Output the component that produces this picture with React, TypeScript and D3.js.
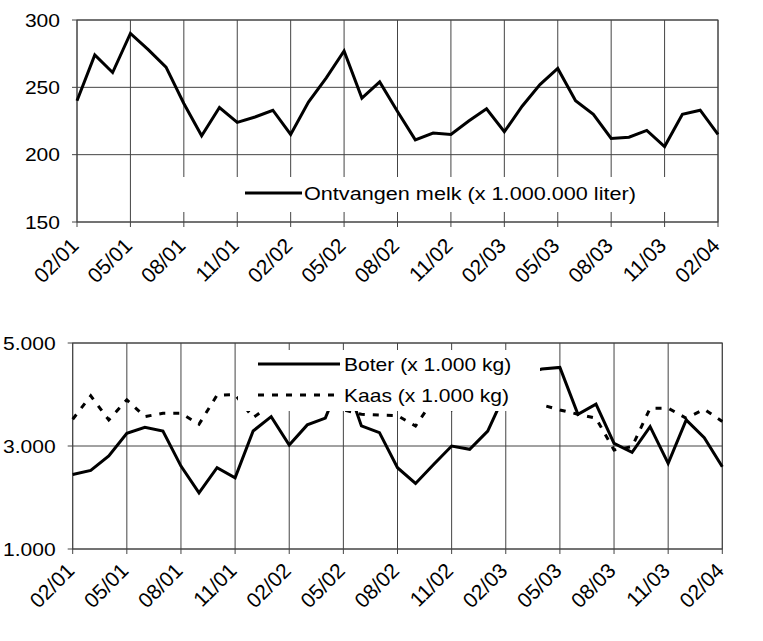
import React from 'react';
import * as d3 from 'd3';

const xTickLabels = ['02/01','05/01','08/01','11/01','02/02','05/02','08/02','11/02','02/03','05/03','08/03','11/03','02/04'];
const melk = [240,274,261,290,278,265,238,214,235,224,228,233,215,239,257,277,242,254,232,211,216,215,225,234,217,236,252,264,240,230,212,213,218,206,230,233,215];
const boter = [2448,2526,2805,3247,3364,3292,2610,2091,2578,2383,3292,3571,3019,3410,3540,4400,3390,3260,2578,2273,2640,3000,2935,3290,4050,4400,4494,4526,3617,3812,3052,2877,3377,2662,3506,3162,2597];
const kaas = [3519,3974,3506,3896,3571,3636,3636,3422,3987,4000,3550,3800,3900,3800,3850,3700,3615,3600,3590,3388,3900,3700,3800,3750,3900,3850,3800,3700,3617,3540,2922,2987,3734,3734,3540,3714,3474];
const topTicks = [150,200,250,300];
const bottomTicks = [1000,3000,5000];
const melkLabel = 'Ontvangen melk (x 1.000.000 liter)';
const boterLabel = 'Boter (x 1.000 kg)';
const kaasLabel = 'Kaas (x 1.000 kg)';

const FONT = '"Liberation Sans", Arial, sans-serif';
const SX = 1.17;
const GRID = '#444';

const nlFormat = d3.formatLocale({ decimal: ',', thousands: '.', grouping: [3], currency: ['', ''] }).format(',');

function Txt({ x, y, size, anchor = 'start', children }: any) {
  return (
    <text
      transform={`translate(${x},${y}) scale(${SX},1)`}
      fontFamily={FONT}
      fontSize={size}
      textAnchor={anchor}
      fill="#000"
    >
      {children}
    </text>
  );
}

function Panel({ left, right, top, bottom, domain, ticks, fmt, labelDy, children }: any) {
  const x = d3.scaleLinear().domain([0, 36]).range([left, right]);
  const y = d3.scaleLinear().domain(domain).range([bottom, top]);
  const tickIdx = xTickLabels.map((_, i) => i * 3);
  return (
    <g>
      {ticks.map((t: number) => (
        <g key={'y' + t}>
          <line x1={left - 5} x2={right} y1={y(t)} y2={y(t)} stroke={GRID} strokeWidth={1} />
          <Txt x={left - 17} y={y(t) + 6.5} size={18} anchor="end">{fmt(t)}</Txt>
        </g>
      ))}
      {tickIdx.map((i, k) => (
        <g key={'x' + i}>
          <line x1={x(i)} x2={x(i)} y1={top} y2={bottom + 5} stroke={GRID} strokeWidth={1} />
          <text
            transform={`translate(${x(i) + 3},${bottom + labelDy}) rotate(-45)`}
            fontFamily={FONT}
            fontSize={21}
            textAnchor="end"
            fill="#000"
          >
            {xTickLabels[k]}
          </text>
        </g>
      ))}
      <rect x={left} y={top} width={right - left} height={bottom - top} fill="none" stroke={GRID} strokeWidth={1} />
      {children(x, y)}
    </g>
  );
}

export default function App() {
  const line = (xs: any, ys: any) =>
    d3.line<number>().x((_, i) => xs(i)).y((d) => ys(d));
  return (
    <svg width={763} height={641} style={{ position: 'absolute', left: 0, top: 0, background: '#fff' }}>
      <rect width={763} height={641} fill="#fff" />
      <Panel left={77} right={718} top={20} bottom={222} domain={[150, 300]} ticks={topTicks} fmt={(v: number) => String(v)} labelDy={25}>
        {(x: any, y: any) => (
          <g>
            <path d={line(x, y)(melk) as string} fill="none" stroke="#000" strokeWidth={3} strokeLinejoin="miter" />
            <rect x={150} y={177} width={550} height={35} fill="#fff" />
            <line x1={245} x2={302} y1={193} y2={193} stroke="#000" strokeWidth={3} />
            <Txt x={304} y={200} size={18.5}>{melkLabel}</Txt>
          </g>
        )}
      </Panel>
      <Panel left={72.7} right={722.3} top={343} bottom={549} domain={[1000, 5000]} ticks={bottomTicks} fmt={nlFormat} labelDy={23}>
        {(x: any, y: any) => (
          <g>
            <path d={line(x, y)(kaas) as string} fill="none" stroke="#000" strokeWidth={3} strokeDasharray="6,8" />
            <path d={line(x, y)(boter) as string} fill="none" stroke="#000" strokeWidth={3} />
            <rect x={238} y={350} width={302} height={61} fill="#fff" />
            <line x1={258} x2={340} y1={364} y2={364} stroke="#000" strokeWidth={3} />
            <Txt x={344} y={371} size={18}>{boterLabel}</Txt>
            <line x1={258} x2={340} y1={395} y2={395} stroke="#000" strokeWidth={3} strokeDasharray="6,8" />
            <Txt x={344} y={402} size={18}>{kaasLabel}</Txt>
          </g>
        )}
      </Panel>
    </svg>
  );
}
